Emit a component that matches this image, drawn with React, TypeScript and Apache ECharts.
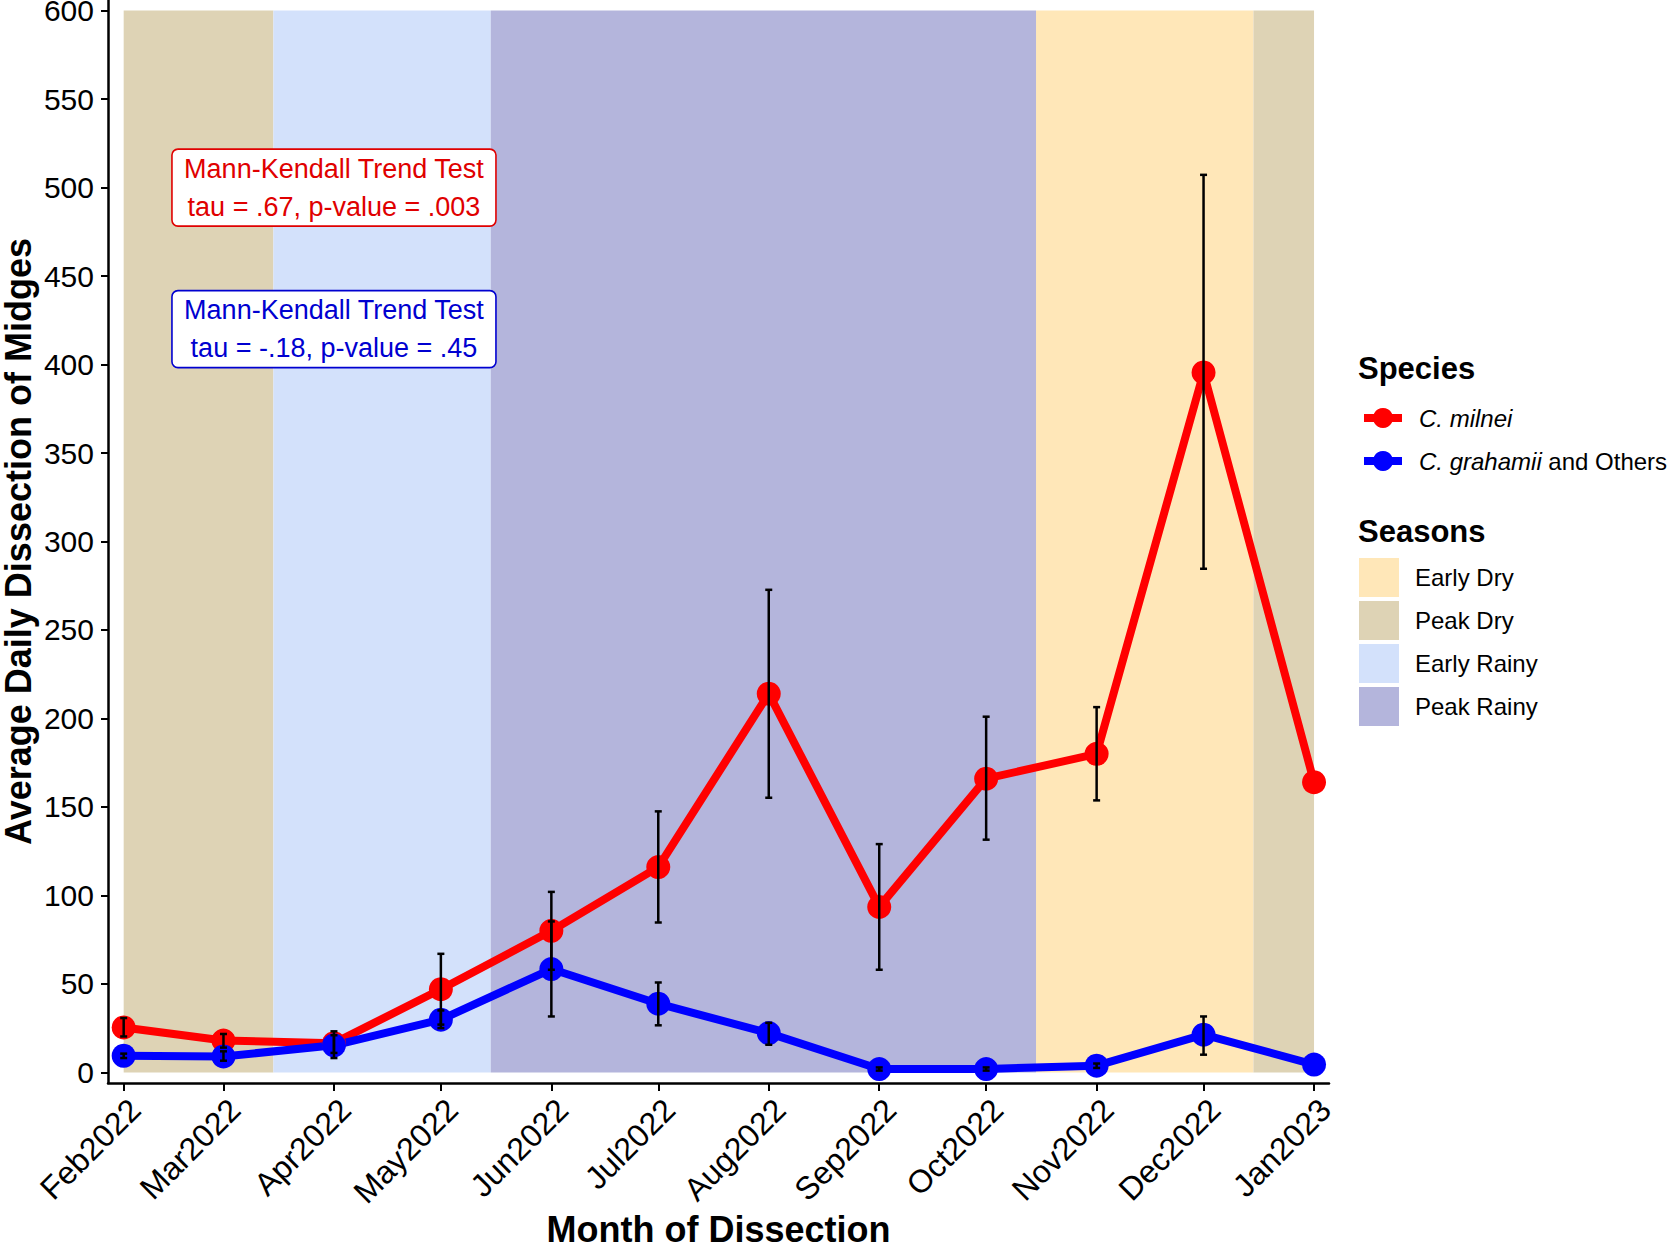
import React, { useEffect, useRef } from "react";
import * as echarts from "echarts";

// ---- data ----
const monthLabels = ["Feb2022", "Mar2022", "Apr2022", "May2022", "Jun2022", "Jul2022", "Aug2022", "Sep2022", "Oct2022", "Nov2022", "Dec2022", "Jan2023"];
const milneiMean = [25.4, 18, 16.5, 47, 80, 116, 214, 93.5, 166, 180, 395.5, 164];
const milneiLow: (number | null)[] = [20.3, 14, 11, 27, 58, 84.7, 155.2, 58, 131.5, 153.7, 284.6, null];
const milneiHigh: (number | null)[] = [30.7, 21.7, 21, 67, 102, 147.5, 272.7, 129, 201, 206.4, 507.2, null];
const othersMean = [9.4, 9, 15.3, 29.8, 58.4, 38.8, 22.2, 1.9, 1.9, 3.8, 21.3, 4.4];
const othersLow: (number | null)[] = [8.1, 6.6, 8.1, 25, 31.6, 26.6, 15.6, 1, 1, 2.5, 10, null];
const othersHigh: (number | null)[] = [10.6, 11.9, 23.2, 35, 85.3, 50.8, 28, 2.8, 2.8, 5, 31.6, null];

const yTickValues = [0, 50, 100, 150, 200, 250, 300, 350, 400, 450, 500, 550, 600];

const seasonNames = ["Early Dry", "Peak Dry", "Early Rainy", "Peak Rainy"];
const seasonColors = ["#FFE7B8", "#DED3B5", "#D3E1FB", "#B4B5DC"];
const seasonPeriods: [string, string, string][] = [
  ["Peak Dry", "2022-02-01", "2022-03-15"],
  ["Early Rainy", "2022-03-15", "2022-05-15"],
  ["Peak Rainy", "2022-05-15", "2022-10-15"],
  ["Early Dry", "2022-10-15", "2022-12-15"],
  ["Peak Dry", "2022-12-15", "2023-01-01"],
];
const seasonTop = 600;

const annotationTexts = [
  "Mann-Kendall Trend Test\ntau = .67, p-value = .003",
  "Mann-Kendall Trend Test\ntau = -.18, p-value = .45",
];
const annotationColors = ["#E00000", "#0000D0"];
const annotationMonth = "Apr2022";
const annotationY = [500, 420];

const speciesNames = ["C. milnei", "C. grahamii and Others"];
const speciesColors = ["#FF0000", "#0000FF"];

// ---- helpers ----
const MONTHS = ["Jan", "Feb", "Mar", "Apr", "May", "Jun", "Jul", "Aug", "Sep", "Oct", "Nov", "Dec"];
const ORIGIN = Date.UTC(2022, 1, 1);
const DAY = 86400000;
const labelToDay = (lab: string) => {
  const m = MONTHS.indexOf(lab.slice(0, 3));
  const y = parseInt(lab.slice(3), 10);
  return Math.round((Date.UTC(y, m, 1) - ORIGIN) / DAY);
};
const isoToDay = (s: string) => {
  const [y, m, d] = s.split("-").map((v) => parseInt(v, 10));
  return Math.round((Date.UTC(y, m - 1, d) - ORIGIN) / DAY);
};
const monthDays = monthLabels.map(labelToDay);

const FONT = '"Liberation Sans", Arial, Helvetica, sans-serif';

export default function App() {
  const ref = useRef<HTMLDivElement>(null);
  useEffect(() => {
    if (!ref.current) return;
    const chart = echarts.init(ref.current, undefined, { renderer: "svg" });

    const bandSeries = seasonNames.map((name, si) => ({
      name,
      type: "custom",
      z: 1,
      silent: true,
      itemStyle: { color: seasonColors[si] },
      encode: { x: [0, 1], y: 2 },
      data: seasonPeriods
        .filter((p) => p[0] === name)
        .map((p) => [isoToDay(p[1]), isoToDay(p[2]), seasonTop]),
      renderItem: (params: any, api: any) => {
        const p0 = api.coord([api.value(0), seasonTop]);
        const p1 = api.coord([api.value(1), 0]);
        return {
          type: "rect",
          shape: { x: p0[0], y: p0[1], width: p1[0] - p0[0], height: p1[1] - p0[1] },
          style: { fill: seasonColors[si] },
        };
      },
    }));

    const means = [milneiMean, othersMean];
    const lows = [milneiLow, othersLow];
    const highs = [milneiHigh, othersHigh];

    const lineSeries = speciesNames.map((name, k) => ({
      name,
      type: "line",
      z: 3,
      symbol: "circle",
      symbolSize: 24,
      showSymbol: true,
      lineStyle: { width: 8, color: speciesColors[k] },
      itemStyle: { color: speciesColors[k] },
      emphasis: { disabled: true },
      data: monthDays.map((d, i) => [d, means[k][i]]),
    }));

    const errSeries = speciesNames.map((name, k) => ({
      name: name + " SE",
      type: "custom",
      z: 5,
      silent: true,
      encode: { x: 0, y: [1, 2] },
      data: monthDays
        .map((d, i) => [d, lows[k][i], highs[k][i]])
        .filter((r) => r[1] !== null && r[2] !== null),
      renderItem: (params: any, api: any) => {
        const x = api.value(0);
        const lo = api.coord([x, api.value(1)]);
        const hi = api.coord([x, api.value(2)]);
        const st = { stroke: "#000", lineWidth: 2.5 };
        const cw = 3.5;
        return {
          type: "group",
          children: [
            { type: "line", shape: { x1: lo[0], y1: lo[1], x2: hi[0], y2: hi[1] }, style: st },
            { type: "line", shape: { x1: lo[0] - cw, y1: lo[1], x2: lo[0] + cw, y2: lo[1] }, style: st },
            { type: "line", shape: { x1: hi[0] - cw, y1: hi[1], x2: hi[0] + cw, y2: hi[1] }, style: st },
          ],
        };
      },
    }));

    const annSeries = {
      name: "annotations",
      type: "custom",
      z: 6,
      silent: true,
      encode: { x: 0, y: 1 },
      data: annotationY.map((y, i) => [labelToDay(annotationMonth), y, i]),
      renderItem: (params: any, api: any) => {
        const c = api.coord([api.value(0), api.value(1)]);
        const i = api.value(2);
        const w = 324;
        const h = 77;
        return {
          type: "group",
          children: [
            {
              type: "rect",
              shape: { x: c[0] - w / 2, y: c[1] - h / 2, width: w, height: h, r: 6 },
              style: { fill: "#fff", stroke: annotationColors[i], lineWidth: 1.6 },
            },
            {
              type: "text",
              x: c[0],
              y: c[1],
              style: {
                text: annotationTexts[i],
                fill: annotationColors[i],
                font: `27px ${FONT}`,
                align: "center",
                verticalAlign: "middle",
                lineHeight: 38,
              },
            },
          ],
        };
      },
    };

    const legendText = (name: string) => {
      if (name === "C. milnei") return "{i|C. milnei}";
      if (name === "C. grahamii and Others") return "{i|C. grahamii} and Others";
      return name;
    };

    chart.setOption({
      animation: false,
      textStyle: { fontFamily: FONT },
      title: [
        { text: "Species", left: 1358, top: 353, padding: 0, textStyle: { fontSize: 31, fontWeight: "bold", color: "#000", fontFamily: FONT } },
        { text: "Seasons", left: 1358, top: 516, padding: 0, textStyle: { fontSize: 31, fontWeight: "bold", color: "#000", fontFamily: FONT } },
      ],
      legend: [
        {
          data: speciesNames,
          orient: "vertical",
          left: 1360,
          top: 406,
          padding: 0,
          itemWidth: 38,
          itemHeight: 25,
          itemGap: 19,
          selectedMode: false,
          lineStyle: { width: 8 },
          formatter: legendText,
          textStyle: {
            fontSize: 24,
            color: "#000",
            fontFamily: FONT,
            padding: [0, 0, 0, 12],
            rich: { i: { fontStyle: "italic", fontSize: 24, color: "#000", fontFamily: FONT } },
          },
        },
        {
          data: seasonNames,
          orient: "vertical",
          left: 1359,
          top: 558,
          padding: 0,
          icon: "rect",
          itemWidth: 40,
          itemHeight: 39,
          itemGap: 4,
          selectedMode: false,
          textStyle: { fontSize: 24, color: "#000", fontFamily: FONT, padding: [0, 0, 0, 11] },
        },
      ],
      grid: { left: 108, right: 343, top: 0, bottom: 165, containLabel: false, outerBoundsMode: "none" },
      xAxis: {
        type: "value",
        min: -4.4,
        max: 338.2,
        name: "Month of Dissection",
        nameLocation: "middle",
        nameGap: 128,
        nameMoveOverlap: false,
        nameTextStyle: { fontSize: 36, fontWeight: "bold", color: "#000", fontFamily: FONT },
        axisLine: { show: true, onZero: false, lineStyle: { color: "#000", width: 2.5 } },
        axisTick: { show: true, length: 8, lineStyle: { color: "#000", width: 2 }, customValues: monthDays },
        axisLabel: {
          customValues: monthDays,
          rotate: 45,
          fontSize: 32,
          color: "#000",
          margin: 10,
          verticalAlign: "top",
          fontFamily: FONT,
          formatter: (v: number) => {
            const idx = monthDays.findIndex((d) => Math.abs(d - v) < 0.01);
            return idx >= 0 ? monthLabels[idx] : "";
          },
        },
        splitLine: { show: false },
      },
      yAxis: {
        type: "value",
        min: -6,
        max: 606,
        name: "Average Daily Dissection of Midges",
        nameLocation: "middle",
        nameGap: 72,
        nameMoveOverlap: false,
        nameTextStyle: { fontSize: 36, fontWeight: "bold", color: "#000", fontFamily: FONT },
        axisLine: { show: true, onZero: false, lineStyle: { color: "#000", width: 2.5 } },
        axisTick: { show: true, length: 7, lineStyle: { color: "#000", width: 2 }, customValues: yTickValues },
        axisLabel: { customValues: yTickValues, fontSize: 30, color: "#000", margin: 14, fontFamily: FONT },
        splitLine: { show: false },
      },
      series: [...bandSeries, ...lineSeries, ...errSeries, annSeries],
    });

    return () => chart.dispose();
  }, []);

  return (
    <div
      ref={ref}
      style={{ position: "absolute", left: 0, top: 0, width: 1672, height: 1248, background: "#fff" }}
    />
  );
}
